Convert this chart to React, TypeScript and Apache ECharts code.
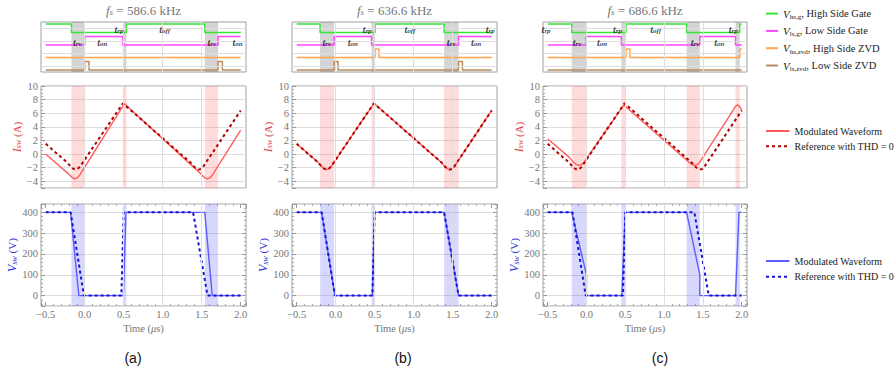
import React, { useEffect, useRef } from 'react';
import * as echarts from 'echarts';

const SERIF = "'Liberation Serif', 'DejaVu Serif', serif";
const SANS = "'Liberation Sans', 'Open Sans', sans-serif";

const panelLetters = ['(a)', '(b)', '(c)'];
const switchingFreqs = ['586.6', '636.6', '686.6'];

// gate / ZVD switching instants (µs); gates: high side starts high, others start low
const hsGateA = [-0.17, 0.535, 1.54];
const lsGateA = [0.0, 0.49, 1.71];
const hsZvdA: number[] = [];
const lsZvdA = [0.0, 0.055, 1.71, 1.765];

const hsGateB = [-0.2, 0.505, 1.39];
const lsGateB = [-0.02, 0.46, 1.575];
const hsZvdB = [0.505, 0.555];
const lsZvdB = [-0.02, 0.03, 1.575, 1.625];

const hsGateC = [-0.19, 0.51, 1.29, 1.975];
const lsGateC = [-0.005, 0.45, 1.46, 1.92];
const hsZvdC = [0.51, 0.56, 1.975];
const lsZvdC: number[] = [];

// timing annotations [subscript, time]
const timingA: [string, number][] = [['rv', -0.094], ['on', 0.227], ['rp', 0.44], ['off', 1.026], ['rv', 1.63], ['on', 1.96]];
const timingB: [string, number][] = [['rv', -0.113], ['on', 0.22], ['rp', 0.406], ['off', 0.952], ['rv', 1.48], ['on', 1.8], ['rp', 1.98]];
const timingC: [string, number][] = [['rp', -0.52], ['rv', -0.12], ['on', 0.2], ['rp', 0.4], ['off', 0.89], ['rv', 1.4], ['on', 1.71], ['rp', 1.89]];

// switch current I_sw (A) vs time (µs)
const refCurrent = [
  [-0.5, 1.5], [-0.22, -1.3], [-0.18, -1.85], [-0.15, -2.15], [-0.12, -2.3], [-0.09, -2.2], [-0.06, -1.85],
  [0.49, 7.45], [1.36, -1.3], [1.4, -1.85], [1.43, -2.15], [1.46, -2.3], [1.49, -2.2], [1.52, -1.85], [2.0, 6.4],
];
const modCurrentA = [
  [-0.5, 0.0], [-0.2, -3.0], [-0.16, -3.45], [-0.13, -3.65], [-0.1, -3.55], [-0.07, -3.2],
  [0.51, 7.4], [1.47, -2.7], [1.51, -3.2], [1.54, -3.5], [1.57, -3.65], [1.6, -3.55], [1.63, -3.2], [2.0, 3.5],
];
const modCurrentB = [
  [-0.5, 1.5], [-0.22, -1.3], [-0.18, -1.85], [-0.15, -2.15], [-0.12, -2.3], [-0.09, -2.2], [-0.06, -1.85],
  [0.49, 7.45], [1.36, -1.3], [1.4, -1.85], [1.43, -2.15], [1.46, -2.3], [1.49, -2.2], [1.52, -1.85], [2.0, 6.4],
];
const modCurrentC = [
  [-0.5, 2.25], [-0.22, -0.5], [-0.17, -1.2], [-0.13, -1.55], [-0.1, -1.67], [-0.07, -1.6], [-0.04, -1.35],
  [0.48, 7.2], [1.27, -0.7], [1.32, -1.2], [1.36, -1.55], [1.39, -1.67], [1.42, -1.6], [1.45, -1.35],
  [1.93, 7.15], [1.95, 7.2], [1.97, 7.0], [2.0, 6.5],
];

// switch voltage V_sw (V) vs time (µs)
const refVoltage = [[-0.5, 400], [-0.18, 400], [-0.01, 0], [0.47, 0], [0.5, 400], [1.39, 400], [1.575, 0], [2.0, 0]];
const modVoltageA = [[-0.5, 400], [-0.18, 400], [-0.075, 0], [0.495, 0], [0.53, 400], [1.54, 400], [1.635, 0], [2.0, 0]];
const modVoltageB = [[-0.5, 400], [-0.18, 400], [-0.01, 0], [0.47, 0], [0.5, 400], [1.39, 400], [1.575, 0], [2.0, 0]];
const modVoltageC = [
  [-0.5, 400], [-0.19, 400], [0.0, 100], [0.0, 0], [0.455, 0], [0.5, 400], [1.29, 400], [1.46, 100], [1.46, 0],
  [1.92, 0], [1.965, 400], [2.0, 400],
];

// transition windows (µs)
const bandsA = [[-0.17, 0.0], [0.49, 0.535], [1.54, 1.71]];
const bandsB = [[-0.2, -0.02], [0.46, 0.505], [1.39, 1.575]];
const bandsC = [[-0.19, -0.005], [0.45, 0.51], [1.29, 1.46], [1.92, 1.975]];

const gridTimes = [0, 0.5, 1.0, 1.5];

const X_MIN = -0.56;
const X_MAX = 2.068;
const colLefts = [41, 292, 543];
const colWidths = [205, 205, 204];
const letterX = [133, 403, 660];

const C_GREEN = '#36e636';
const C_MAGENTA = '#ff45ff';
const C_ORANGE = '#ffa54f';
const C_BROWN = '#b88c5c';
const C_IMOD = '#ff5c5c';
const C_IREF = '#b00000';
const C_VMOD = '#5c5cff';
const C_VREF = '#1414d2';
const LABEL_GRAY = '#777';
const FRAME = '#a0a0a0';
const GRIDLINE = '#dedede';

function stepPoints(edges: number[], startHigh: boolean, lo: number, hi: number) {
  const pts: number[][] = [];
  let level = startHigh ? hi : lo;
  pts.push([-0.5, level]);
  for (const e of edges) {
    pts.push([e, level]);
    level = level === hi ? lo : hi;
    pts.push([e, level]);
  }
  pts.push([2.0, level]);
  return pts;
}

const fmtNum = (v: number, dec: number) => (v < 0 ? '\u2212' : '') + Math.abs(v).toFixed(dec);

function buildOption() {
  const columns = [
    { gate: [hsGateA, lsGateA, hsZvdA, lsZvdA], cur: modCurrentA, volt: modVoltageA, bands: bandsA, timing: timingA },
    { gate: [hsGateB, lsGateB, hsZvdB, lsZvdB], cur: modCurrentB, volt: modVoltageB, bands: bandsB, timing: timingB },
    { gate: [hsGateC, lsGateC, hsZvdC, lsZvdC], cur: modCurrentC, volt: modVoltageC, bands: bandsC, timing: timingC },
  ];

  const grids: any[] = [];
  const xAxes: any[] = [];
  const yAxes: any[] = [];
  const series: any[] = [];
  const graphics: any[] = [];

  const baseX = {
    type: 'value', min: X_MIN, max: X_MAX,
    axisLine: { show: false, onZero: false },
    splitLine: { show: false },
  };
  const tickStyle = { show: true, inside: true, length: 4, lineStyle: { color: '#999' } };
  const minorStyle = (n: number) => ({ show: true, splitNumber: n, length: 2, lineStyle: { color: '#aaa' } });

  const gateNames = ['hsg', 'lsg', 'hsz', 'lsz'];
  const gateColors = [C_GREEN, C_MAGENTA, C_ORANGE, C_BROWN];
  const gateLo = [4.75, 3.25, 1.75, 0.25];
  const gateStartHigh = [true, false, false, false];

  const axisNameRich = (color: string) => ({
    i: { fontFamily: SERIF, fontStyle: 'italic', fontSize: 12, color },
    s: { fontFamily: SERIF, fontStyle: 'italic', fontSize: 8, color, verticalAlign: 'bottom', padding: [4, 0, 0, 0] },
    n: { fontFamily: SERIF, fontSize: 11, color },
  });

  columns.forEach((col, c) => {
    const left = colLefts[c];
    const width = colWidths[c];
    const gBase = grids.length;
    grids.push({ left, width, top: 22, height: 50, show: true, borderColor: FRAME, borderWidth: 1, backgroundColor: '#fff' });
    grids.push({ left, width, top: 86, height: 102, show: true, borderColor: FRAME, borderWidth: 1, backgroundColor: '#fff' });
    grids.push({ left, width, top: 204, height: 102, show: true, borderColor: FRAME, borderWidth: 1, backgroundColor: '#fff' });

    // gate axes
    const xg = xAxes.length;
    xAxes.push({ ...baseX, gridIndex: gBase, axisLabel: { show: false }, axisTick: { show: false } });
    const yg = yAxes.length;
    yAxes.push({ type: 'value', gridIndex: gBase, min: 0, max: 6, axisLine: { show: false, onZero: false }, axisLabel: { show: false }, axisTick: { show: false }, splitLine: { show: false } });

    // current axes
    const xc = xAxes.length;
    xAxes.push({ ...baseX, gridIndex: gBase + 1, axisLabel: { show: false }, axisTick: { show: false } });
    const yc = yAxes.length;
    yAxes.push({
      type: 'value', gridIndex: gBase + 1, min: -5, max: 10, splitNumber: 7,
      axisLine: { show: false, onZero: false },
      axisTick: tickStyle, minorTick: minorStyle(4),
      splitLine: { show: true, lineStyle: { color: GRIDLINE } },
      axisLabel: { show: true, showMinLabel: false, margin: 3, color: LABEL_GRAY, fontFamily: SERIF, fontSize: 10.5, formatter: (v: number) => fmtNum(v, 0) },
      name: '{i|I}{s|sw}{n| (A)}', nameLocation: 'middle', nameRotate: 90, nameGap: 18,
      nameTextStyle: { color: '#d94848', rich: axisNameRich('#d94848') },
    });

    // voltage axes
    const xv = xAxes.length;
    xAxes.push({
      ...baseX, gridIndex: gBase + 2, position: 'bottom',
      axisTick: tickStyle, minorTick: minorStyle(5),
      axisLabel: { show: true, showMinLabel: false, showMaxLabel: false, margin: 3, color: LABEL_GRAY, fontFamily: SERIF, fontSize: 10.5, formatter: (v: number) => fmtNum(v, 1) },
      name: '{n|Time (}{m|\u03bc}{n|s)}', nameLocation: 'middle', nameGap: 17,
      nameTextStyle: {
        rich: {
          n: { fontFamily: SERIF, fontSize: 10.5, color: LABEL_GRAY },
          m: { fontFamily: SERIF, fontStyle: 'italic', fontSize: 10.5, color: LABEL_GRAY },
        },
      },
    });
    xAxes.push({ ...baseX, gridIndex: gBase + 2, position: 'top', axisLabel: { show: false }, axisTick: tickStyle, minorTick: minorStyle(5) });
    const yv = yAxes.length;
    yAxes.push({
      type: 'value', gridIndex: gBase + 2, min: -50, max: 440, splitNumber: 5, position: 'left',
      axisLine: { show: false, onZero: false },
      axisTick: tickStyle, minorTick: minorStyle(5),
      splitLine: { show: true, lineStyle: { color: GRIDLINE } },
      axisLabel: { show: true, showMinLabel: false, showMaxLabel: false, margin: 3, color: LABEL_GRAY, fontFamily: SERIF, fontSize: 10.5, formatter: (v: number) => fmtNum(v, 0) },
      name: '{i|V}{s|sw}{n| (V)}', nameLocation: 'middle', nameRotate: 90, nameGap: 18,
      nameTextStyle: { color: '#3434d6', rich: axisNameRich('#3434d6') },
    });
    yAxes.push({
      type: 'value', gridIndex: gBase + 2, min: -50, max: 440, splitNumber: 5, position: 'right',
      axisLine: { show: false, onZero: false }, axisLabel: { show: false },
      axisTick: tickStyle, minorTick: minorStyle(5), splitLine: { show: false },
    });

    const vLines = gridTimes.map((t) => ({ xAxis: t }));
    const markLineBase = { silent: true, symbol: ['none', 'none'], label: { show: false }, animation: false, lineStyle: { color: GRIDLINE, type: 'solid', width: 1 } };

    // gate background
    series.push({
      type: 'line', name: 'bg', xAxisIndex: xg, yAxisIndex: yg, data: [], z: 1, silent: true,
      markArea: { silent: true, itemStyle: { color: 'rgba(0,0,0,0.17)' }, data: col.bands.map(([s, e]) => [{ xAxis: s }, { xAxis: e }]) },
      markLine: { ...markLineBase, data: [...vLines, ...[0.75, 2.25, 3.75, 5.25].map((y) => ({ yAxis: y }))] },
    });
    col.gate.forEach((edges, k) => {
      series.push({
        type: 'line', name: gateNames[k], xAxisIndex: xg, yAxisIndex: yg, z: 3,
        data: stepPoints(edges, gateStartHigh[k], gateLo[k], gateLo[k] + 1),
        symbol: 'none', showSymbol: false, color: gateColors[k],
        lineStyle: { color: gateColors[k], width: 1.5 },
      });
    });
    series.push({
      type: 'scatter', name: 'timing', xAxisIndex: xg, yAxisIndex: yg, z: 5, symbolSize: 1,
      itemStyle: { color: 'rgba(0,0,0,0)' },
      data: col.timing.map(([s, t]) => [t, s === 'rv' || s === 'on' ? 3.57 : 5.13, s]),
      label: {
        show: true, position: 'inside', color: '#111', textBorderWidth: 0, textBorderColor: 'transparent',
        formatter: (p: any) => `{t|t}{s|${p.data[2]}}`,
        rich: {
          t: { fontFamily: SERIF, fontStyle: 'italic', fontWeight: 'bold', fontSize: 10, color: '#111' },
          s: { fontFamily: SERIF, fontStyle: 'italic', fontWeight: 'bold', fontSize: 7, color: '#111', verticalAlign: 'bottom', padding: [3, 0, 0, 0] },
        },
      },
    });

    // current
    series.push({
      type: 'line', name: 'bg', xAxisIndex: xc, yAxisIndex: yc, data: [], z: 1, silent: true,
      markArea: { silent: true, itemStyle: { color: 'rgba(255,40,40,0.17)' }, data: col.bands.map(([s, e]) => [{ xAxis: s }, { xAxis: e }]) },
      markLine: { ...markLineBase, data: vLines },
    });
    series.push({
      type: 'line', name: 'imod', xAxisIndex: xc, yAxisIndex: yc, z: 3, data: col.cur,
      symbol: 'none', showSymbol: false, color: C_IMOD, lineStyle: { color: C_IMOD, width: 1.4 },
    });
    series.push({
      type: 'line', name: 'iref', xAxisIndex: xc, yAxisIndex: yc, z: 4, data: refCurrent,
      symbol: 'none', showSymbol: false, color: C_IREF, lineStyle: { color: C_IREF, width: 2, type: [3, 3] },
    });

    // voltage
    series.push({
      type: 'line', name: 'bg', xAxisIndex: xv, yAxisIndex: yv, data: [], z: 1, silent: true,
      markArea: { silent: true, itemStyle: { color: 'rgba(60,60,255,0.2)' }, data: col.bands.map(([s, e]) => [{ xAxis: s }, { xAxis: e }]) },
      markLine: { ...markLineBase, data: vLines },
    });
    series.push({
      type: 'line', name: 'vmod', xAxisIndex: xv, yAxisIndex: yv, z: 3, data: col.volt,
      symbol: 'none', showSymbol: false, color: C_VMOD, lineStyle: { color: C_VMOD, width: 1.4 },
    });
    series.push({
      type: 'line', name: 'vref', xAxisIndex: xv, yAxisIndex: yv, z: 4, data: refVoltage,
      symbol: 'none', showSymbol: false, color: C_VREF, lineStyle: { color: C_VREF, width: 2, type: [3, 3] },
    });

    // title and panel letter
    graphics.push({
      type: 'text', x: left + width / 2, y: 10, silent: true,
      style: {
        text: `{f|f}{s|s}{n| = ${switchingFreqs[c]} kHz}`, align: 'center', verticalAlign: 'middle',
        rich: {
          f: { fontFamily: SERIF, fontStyle: 'italic', fontSize: 13, fill: LABEL_GRAY },
          s: { fontFamily: SERIF, fontStyle: 'italic', fontSize: 9, fill: LABEL_GRAY, verticalAlign: 'bottom', padding: [4, 0, 0, 0] },
          n: { fontFamily: SERIF, fontSize: 13, fill: LABEL_GRAY },
        },
      },
    });
    graphics.push({
      type: 'text', x: letterX[c], y: 358, silent: true,
      style: { text: panelLetters[c], align: 'center', verticalAlign: 'middle', fontFamily: SANS, fontSize: 14, fill: '#111' },
    });
  });

  const legendNames: Record<string, string> = {
    hsg: '{v|V}{s|hs,g}{t|, High Side Gate}',
    lsg: '{v|V}{s|ls,g}{t|, Low Side Gate}',
    hsz: '{v|V}{s|hs,zvd}{t|, High Side ZVD}',
    lsz: '{v|V}{s|ls,zvd}{t|, Low Side ZVD}',
    imod: '{w|Modulated Waveform}',
    iref: '{w|Reference with THD = 0}',
    vmod: '{w|Modulated Waveform}',
    vref: '{w|Reference with THD = 0}',
  };
  const legendRich = {
    v: { fontFamily: SERIF, fontStyle: 'italic', fontSize: 11, color: '#222', lineHeight: 14 },
    s: { fontFamily: SERIF, fontSize: 7, color: '#222', verticalAlign: 'bottom', lineHeight: 14, padding: [3, 0, 0, 0] },
    t: { fontFamily: SERIF, fontSize: 10.5, color: '#222', lineHeight: 14 },
    w: { fontFamily: SERIF, fontSize: 10, color: '#222', lineHeight: 12 },
  };
  const legendBase = {
    orient: 'vertical', selectedMode: false, left: 760,
    formatter: (n: string) => legendNames[n] || n,
    itemStyle: { opacity: 0 },
    textStyle: { rich: legendRich },
  };

  return {
    animation: false,
    backgroundColor: '#fff',
    grid: grids,
    xAxis: xAxes,
    yAxis: yAxes,
    series,
    graphic: graphics,
    legend: [
      { ...legendBase, data: ['hsg', 'lsg', 'hsz', 'lsz'], top: 3, itemWidth: 12, itemHeight: 14, itemGap: 4.7 },
      { ...legendBase, data: ['imod', 'iref'], top: 121, itemWidth: 23.5, itemHeight: 12, itemGap: 5.3 },
      { ...legendBase, data: ['vmod', 'vref'], top: 251, itemWidth: 23.5, itemHeight: 12, itemGap: 5.7 },
    ],
  };
}

export default function App() {
  const ref = useRef<HTMLDivElement>(null);
  useEffect(() => {
    if (!ref.current) return;
    const chart = echarts.init(ref.current, undefined, { renderer: 'svg' });
    chart.setOption(buildOption() as any);
    return () => chart.dispose();
  }, []);
  return <div ref={ref} style={{ position: 'fixed', left: 0, top: 0, width: 896, height: 377, background: '#fff' }} />;
}
